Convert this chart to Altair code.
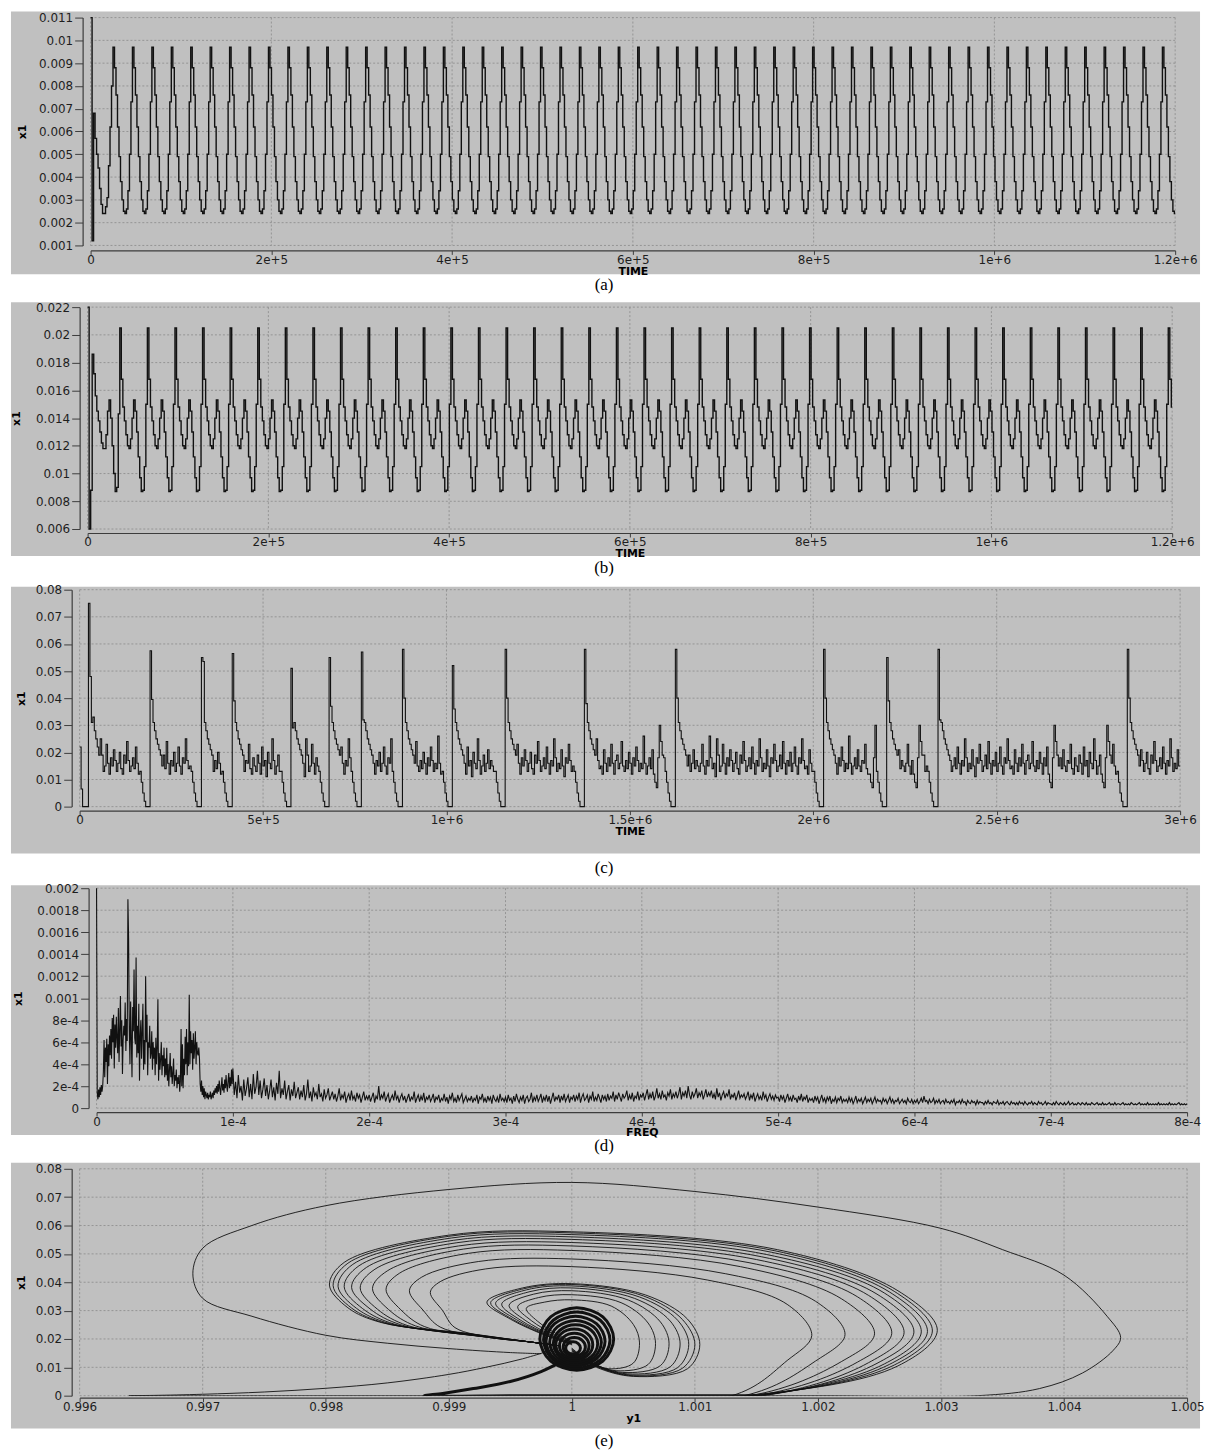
import altair as alt
import pandas as pd

# ---------------------------------------------------------------- look
GRAY = "#c0c0c0"
GRID = "#8a8a8a"
LINE = "#111111"
SERIF = "Liberation Serif"
SANS = "DejaVu Sans"

# ---------------------------------------------------------------- (a) x1 vs TIME
a_step = 1654.0
a_start = [0.0110, 0.0012, 0.0068, 0.0057, 0.0050, 0.0044, 0.0035, 0.0028,
           0.0024, 0.0024, 0.0027, 0.0031, 0.0045, 0.0062, 0.0080]
a_cycle = [0.0097, 0.0088, 0.0076, 0.0062, 0.0049, 0.0038, 0.0030, 0.0025,
           0.0024, 0.0026, 0.0034, 0.0050, 0.0073]
a_cycles = 55
a_xticks = [0, 200000, 400000, 600000, 800000, 1000000, 1200000]
a_yticks = [0.001, 0.002, 0.003, 0.004, 0.005, 0.006, 0.007, 0.008, 0.009, 0.01, 0.011]

# ---------------------------------------------------------------- (b) x1 vs TIME
b_step = 1696.0
b_start = [0.022, 0.006, 0.0088, 0.0186, 0.0172, 0.0156, 0.0145, 0.0138, 0.0130,
           0.0122, 0.0118, 0.0118, 0.0128, 0.0145, 0.0153, 0.0140, 0.0120, 0.0100,
           0.0087, 0.0090, 0.0143]
b_cycle = [0.0205, 0.0168, 0.0148, 0.0138, 0.0128, 0.0120, 0.0118, 0.0125, 0.0140,
           0.0153, 0.0145, 0.0130, 0.0112, 0.0097, 0.0087, 0.0088, 0.0105, 0.0150]
b_cycles = 39
b_xticks = [0, 200000, 400000, 600000, 800000, 1000000, 1200000]
b_yticks = [0.006, 0.008, 0.01, 0.012, 0.014, 0.016, 0.018, 0.02, 0.022]

# ---------------------------------------------------------------- (c) x1 vs TIME
c_step = 4000.0
c_n = 750
c_head = [0.022, 0.0065, 0.0, 0.0, 0.0, 0.0, 0.075, 0.048, 0.031, 0.033, 0.028,
          0.025, 0.022, 0.019]
c_bg = [17, 15, 13, 16, 23, 15, 12, 17, 15, 26, 18, 14, 16, 11, 25, 19, 13, 15, 23, 16,
        12, 18, 15, 21, 17, 13, 16, 20, 14, 12, 19, 16, 24, 17, 13, 15, 18, 14, 22, 16,
        12, 17, 15, 25, 18, 13, 16, 14, 21, 15, 11, 18, 16, 23, 17, 13, 15, 19, 14, 24,
        16, 12, 17, 15, 20, 13, 16, 22, 15, 12, 18, 16, 25, 17, 14, 15, 12, 21, 16, 13,
        18, 15, 23, 16, 12, 17, 19, 14, 16, 24, 15, 13, 17, 14, 20, 16, 12, 18, 15, 22,
        17, 13, 16, 14, 26, 16, 12, 15, 18, 14, 21, 15, 13, 17, 16, 23, 14, 12, 18, 15,
        13, 19, 16, 12, 22, 15, 17, 11, 20, 16, 14, 25, 17, 12, 15, 19, 13, 16, 21, 14]
c_spike_idx = [48, 83, 104, 144, 170, 192, 220, 254, 290, 344, 406, 507, 550, 585, 714]
c_spike_peak = [0.0575, 0.055, 0.0565, 0.051, 0.055, 0.057, 0.058, 0.052, 0.058,
                0.058, 0.058, 0.058, 0.055, 0.058, 0.058]
c_spike_second = [0.0395, 0.0535, 0.039, 0.029, 0.037, 0.032, 0.040, 0.036, 0.040,
                  0.038, 0.040, 0.040, 0.039, 0.032, 0.040]
c_pre = [0.013, 0.009, 0.005, 0.002, 0.0, 0.0, 0.0]
c_post = [0.031, 0.028, 0.025, 0.023, 0.021, 0.019]
c_dip_idx = [393, 540, 570, 662, 698]
c_dip = [0.012, 0.009, 0.007, 0.018, 0.030, 0.024, 0.019]
c_xticks = [0, 500000, 1000000, 1500000, 2000000, 2500000, 3000000]
c_yticks = [0, 0.01, 0.02, 0.03, 0.04, 0.05, 0.06, 0.07, 0.08]

# ---------------------------------------------------------------- (d) spectrum vs FREQ (units of 1e-5)
d_low_step = 5e-7
d_low = [200, 14, 8, 17, 10, 19, 12, 21, 15, 20,
         33, 62, 28, 55, 42, 63, 22, 58, 38, 66,
         48, 72, 45, 82, 60, 85, 36, 76, 55, 83,
         63, 50, 91, 42, 71, 102, 56, 80, 31, 62,
         75, 66, 96, 52, 81, 61, 190, 155, 72, 40,
         97, 63, 28, 92, 70, 126, 64, 58, 137, 46,
         75, 50, 95, 25, 65, 80, 45, 70, 95, 35,
         62, 40, 120, 60, 85, 30, 60, 55, 75, 45,
         50, 70, 35, 60, 45, 55, 30, 64, 40, 55,
         99, 25, 50, 35, 45, 60, 30, 48, 38, 55,
         28, 45, 30, 55, 25, 40, 20, 35, 50, 28,
         38, 22, 32, 45, 20, 30, 25, 35, 18, 28,
         22, 30, 15, 25, 72, 20, 58, 18, 45, 30,
         65, 40, 72, 30, 60, 38, 103, 40, 70, 50,
         62, 35, 68, 45, 55, 70, 40, 60, 50, 48,
         55, 45, 22, 15, 25, 12, 20, 10, 18, 8,
         15, 12, 9, 14, 8, 12, 10, 15, 8, 11,
         14, 9, 16, 12, 18, 14, 20, 13, 22, 15,
         25, 18, 12, 20, 28, 16, 22, 14, 26, 18,
         30, 20, 15, 25, 32, 18, 28, 20, 35, 22]
d_high_start = 1e-4
d_high_step = 1e-6
d_high = [36, 12, 24, 9, 30, 14, 20, 7, 26, 11, 18, 28, 10, 22, 8, 31, 13, 19, 34, 12, 25, 9, 17, 27, 11,
          21, 8, 16, 26, 10, 19, 7, 23, 13, 34, 9, 18, 12, 25, 8, 15, 21, 7, 17, 11, 24, 9, 14, 19, 8,
          16, 10, 21, 7, 13, 26, 9, 15, 6, 19, 11, 14, 8, 22, 10, 13, 6, 17, 9, 12, 18, 7, 11, 15, 8,
          13, 6, 11, 18, 7, 12, 9, 15, 5, 10, 13, 7, 16, 8, 11, 6, 14, 9, 12, 5, 10, 15, 7, 11, 8,
          12, 6, 10, 14, 5, 11, 8, 20, 7, 12, 9, 15, 6, 10, 13, 5, 9, 12, 7, 16, 8, 11, 5, 10, 13,
          7, 11, 5, 9, 13, 6, 10, 8, 15, 5, 9, 12, 6, 11, 7, 14, 5, 10, 8, 12, 6, 9, 13, 5, 10,
          8, 12, 5, 9, 7, 13, 6, 10, 4, 11, 8, 14, 6, 9, 5, 12, 7, 10, 13, 5, 8, 11, 6, 9, 7,
          11, 5, 9, 7, 12, 4, 10, 8, 13, 6, 9, 5, 11, 7, 10, 4, 12, 8, 6, 10, 5, 13, 7, 9, 6,
          10, 5, 12, 7, 9, 4, 11, 6, 13, 8, 5, 10, 7, 12, 4, 9, 11, 6, 8, 14, 5, 10, 7, 12, 6,
          9, 13, 5, 10, 7, 12, 6, 11, 4, 9, 14, 6, 10, 8, 12, 5, 11, 7, 13, 6, 9, 12, 5, 10, 8,
          12, 6, 11, 8, 14, 5, 10, 13, 7, 9, 12, 5, 11, 8, 15, 6, 10, 7, 13, 9, 5, 12, 8, 11, 6,
          13, 7, 11, 9, 15, 6, 12, 8, 14, 10, 6, 13, 9, 11, 16, 7, 12, 8, 14, 6, 11, 9, 15, 7, 12,
          10, 14, 7, 12, 17, 8, 13, 9, 15, 7, 11, 18, 9, 13, 8, 16, 10, 12, 7, 14, 11, 17, 8, 13, 10,
          15, 9, 13, 19, 8, 14, 11, 16, 9, 20, 12, 8, 15, 10, 13, 18, 9, 14, 11, 16, 8, 12, 17, 10, 14,
          11, 16, 9, 13, 8, 18, 10, 14, 7, 12, 15, 9, 13, 11, 17, 8, 12, 10, 14, 7, 11, 16, 9, 12, 10,
          13, 8, 11, 15, 7, 12, 9, 14, 6, 10, 13, 8, 11, 7, 15, 9, 12, 6, 10, 13, 8, 11, 7, 12, 9,
          10, 6, 12, 8, 11, 5, 9, 13, 7, 10, 6, 12, 8, 9, 5, 11, 7, 13, 6, 10, 8, 12, 5, 9, 7,
          9, 5, 11, 7, 10, 4, 8, 12, 6, 9, 5, 10, 7, 11, 4, 8, 6, 10, 5, 9, 7, 11, 5, 8, 6,
          8, 5, 10, 6, 9, 4, 7, 11, 5, 8, 6, 9, 4, 7, 10, 5, 8, 6, 9, 4, 7, 10, 5, 8, 6,
          7, 4, 9, 6, 8, 4, 7, 10, 5, 8, 4, 7, 6, 9, 4, 6, 8, 5, 7, 4, 9, 6, 5, 8, 4,
          7, 5, 8, 4, 6, 9, 5, 11, 6, 7, 4, 8, 5, 6, 9, 4, 7, 5, 8, 4, 6, 7, 4, 8, 5,
          6, 4, 7, 5, 8, 3, 6, 5, 7, 4, 8, 5, 6, 3, 7, 5, 4, 7, 5, 6, 3, 7, 4, 6, 5,
          5, 3, 6, 4, 7, 4, 5, 3, 6, 5, 4, 7, 3, 5, 4, 6, 3, 5, 6, 4, 3, 6, 4, 5, 3,
          5, 3, 6, 4, 5, 3, 6, 4, 3, 5, 4, 6, 3, 5, 4, 3, 6, 4, 5, 3, 4, 6, 3, 5, 4,
          4, 3, 5, 3, 6, 4, 3, 5, 4, 3, 5, 3, 4, 6, 3, 4, 5, 3, 4, 3, 5, 4, 3, 5, 4,
          3, 5, 3, 4, 3, 5, 4, 3, 4, 5, 3, 4, 3, 5, 3, 4, 3, 4, 5, 3, 4, 3, 5, 3, 4,
          4, 3, 4, 5, 3, 4, 3, 4, 3, 5, 4, 3, 4, 3, 4, 5, 3, 4, 3, 4, 3, 5, 3, 4, 3,
          4, 3, 4, 3, 5, 3, 4, 3, 4, 3, 4, 3, 5, 3, 4, 3, 4, 3, 4, 5, 3, 4, 3, 4, 3, 4]
d_xticks = [0, 0.0001, 0.0002, 0.0003, 0.0004, 0.0005, 0.0006, 0.0007, 0.0008]
d_yticks = [0, 0.0002, 0.0004, 0.0006, 0.0008, 0.001, 0.0012, 0.0014, 0.0016, 0.0018, 0.002]

# ---------------------------------------------------------------- (e) x1 vs y1 (phase portrait)
e_transient_y1 = [0.99990, 0.99960, 0.99930, 0.99900, 0.99850, 0.99800, 0.99750, 0.99700,
                  0.99660, 0.99640, 0.99800, 1.00000, 1.00200, 1.00330, 1.00380, 1.00415,
                  1.00440, 1.00446, 1.00435, 1.00400, 1.00350, 1.00300, 1.00200, 1.00100,
                  1.00000, 0.99900, 0.99800, 0.99740, 0.99700, 0.99692, 0.99700, 0.99740,
                  0.99800, 0.99850, 0.99900, 0.99950, 0.99975]
e_transient_x1 = [0.0170, 0.0130, 0.0100, 0.0075, 0.0045, 0.0026, 0.0013, 0.0005,
                  0.0001, 0.0, 0.0, 0.0, 0.0, 0.0, 0.0025, 0.0080,
                  0.0160, 0.0205, 0.0280, 0.0425, 0.0515, 0.0590, 0.0665, 0.0720,
                  0.0752, 0.0727, 0.0670, 0.0600, 0.0520, 0.0430, 0.0343, 0.0280,
                  0.0213, 0.0185, 0.0166, 0.0152, 0.0148]
e_drop_y1 = [1.00000, 0.99994, 0.99975, 0.99950, 0.99920, 0.99895, 0.99880]
e_drop_x1 = [0.0150, 0.0128, 0.0085, 0.0050, 0.0025, 0.0008, 0.0]
e_return_y1 = [0.99965, 0.99990]
e_return_x1 = [0.0190, 0.0176]
e_big_loops = [
    ([1.00140, 1.00265, 1.00297, 1.00265, 1.00167, 1.00000, 0.99900, 0.99815, 0.99803, 0.99818, 0.99845, 0.99915],
     [0.0, 0.0105, 0.0230, 0.0370, 0.0515, 0.0578, 0.0566, 0.0470, 0.0390, 0.0310, 0.0258, 0.0220]),
    ([1.00145, 1.00262, 1.00293, 1.00262, 1.00165, 1.00000, 0.99900, 0.99818, 0.99806, 0.99821, 0.99848, 0.99917],
     [0.0, 0.0108, 0.0228, 0.0368, 0.0511, 0.0574, 0.0562, 0.0467, 0.0388, 0.0309, 0.0256, 0.0218]),
    ([1.00150, 1.00258, 1.00289, 1.00258, 1.00162, 1.00000, 0.99902, 0.99822, 0.99810, 0.99825, 0.99852, 0.99919],
     [0.0, 0.0110, 0.0226, 0.0366, 0.0506, 0.0568, 0.0556, 0.0463, 0.0386, 0.0308, 0.0254, 0.0216]),
    ([1.00150, 1.00254, 1.00284, 1.00254, 1.00158, 1.00000, 0.99904, 0.99827, 0.99815, 0.99830, 0.99856, 0.99921],
     [0.0, 0.0112, 0.0225, 0.0362, 0.0498, 0.0560, 0.0548, 0.0458, 0.0384, 0.0307, 0.0252, 0.0214]),
    ([1.00155, 1.00248, 1.00278, 1.00248, 1.00154, 1.00000, 0.99906, 0.99833, 0.99821, 0.99836, 0.99861, 0.99923],
     [0.0, 0.0114, 0.0224, 0.0358, 0.0490, 0.0551, 0.0539, 0.0452, 0.0382, 0.0306, 0.0250, 0.0212]),
    ([1.00155, 1.00241, 1.00270, 1.00241, 1.00150, 1.00000, 0.99908, 0.99840, 0.99828, 0.99842, 0.99866, 0.99925],
     [0.0, 0.0116, 0.0222, 0.0354, 0.0480, 0.0540, 0.0528, 0.0446, 0.0380, 0.0305, 0.0248, 0.0210]),
    ([1.00150, 1.00232, 1.00260, 1.00232, 1.00144, 1.00000, 0.99912, 0.99850, 0.99838, 0.99851, 0.99873, 0.99928],
     [0.0, 0.0118, 0.0220, 0.0349, 0.0469, 0.0528, 0.0517, 0.0440, 0.0378, 0.0304, 0.0246, 0.0208]),
    ([1.00145, 1.00219, 1.00246, 1.00219, 1.00137, 1.00000, 0.99916, 0.99860, 0.99849, 0.99861, 0.99880, 0.99931],
     [0.0, 0.0120, 0.0218, 0.0342, 0.0455, 0.0512, 0.0502, 0.0432, 0.0375, 0.0303, 0.0244, 0.0206]),
    ([1.00140, 1.00198, 1.00222, 1.00198, 1.00125, 1.00000, 0.99924, 0.99878, 0.99868, 0.99879, 0.99893, 0.99935],
     [0.0, 0.0122, 0.0215, 0.0333, 0.0430, 0.0482, 0.0473, 0.0418, 0.0370, 0.0302, 0.0242, 0.0204]),
    ([1.00130, 1.00175, 1.00195, 1.00175, 1.00110, 1.00000, 0.99930, 0.99893, 0.99885, 0.99895, 0.99905, 0.99940],
     [0.0, 0.0124, 0.0212, 0.0322, 0.0408, 0.0455, 0.0447, 0.0402, 0.0364, 0.0300, 0.0240, 0.0202]),
]
e_mid_loops = [
    ([1.00000, 1.00020, 1.00050, 1.00094, 1.00104, 1.00094, 1.00060, 1.00000, 0.99960, 0.99931, 0.99950, 0.99980, 1.00000],
     [0.0150, 0.0100, 0.0068, 0.0095, 0.0180, 0.0270, 0.0355, 0.0395, 0.0380, 0.0330, 0.0270, 0.0210, 0.0180]),
    ([1.00000, 1.00020, 1.00050, 1.00090, 1.00100, 1.00090, 1.00058, 1.00000, 0.99961, 0.99934, 0.99952, 0.99981, 1.00000],
     [0.0155, 0.0103, 0.0070, 0.0097, 0.0180, 0.0268, 0.0352, 0.0392, 0.0377, 0.0328, 0.0269, 0.0210, 0.0182]),
    ([1.00000, 1.00019, 1.00048, 1.00086, 1.00095, 1.00086, 1.00055, 1.00000, 0.99963, 0.99938, 0.99955, 0.99982, 1.00000],
     [0.0158, 0.0106, 0.0073, 0.0099, 0.0181, 0.0266, 0.0348, 0.0387, 0.0373, 0.0326, 0.0268, 0.0211, 0.0184]),
    ([1.00000, 1.00018, 1.00045, 1.00080, 1.00088, 1.00080, 1.00051, 1.00000, 0.99966, 0.99943, 0.99958, 0.99983, 1.00000],
     [0.0160, 0.0110, 0.0077, 0.0102, 0.0182, 0.0263, 0.0343, 0.0380, 0.0367, 0.0323, 0.0267, 0.0212, 0.0186]),
    ([1.00000, 1.00017, 1.00041, 1.00072, 1.00079, 1.00072, 1.00046, 1.00000, 0.99969, 0.99949, 0.99962, 0.99984, 1.00000],
     [0.0162, 0.0114, 0.0082, 0.0106, 0.0183, 0.0260, 0.0337, 0.0370, 0.0358, 0.0319, 0.0266, 0.0213, 0.0188]),
    ([1.00000, 1.00015, 1.00036, 1.00062, 1.00068, 1.00062, 1.00040, 1.00000, 0.99973, 0.99956, 0.99967, 0.99986, 1.00000],
     [0.0165, 0.0118, 0.0088, 0.0110, 0.0184, 0.0256, 0.0328, 0.0356, 0.0346, 0.0314, 0.0265, 0.0215, 0.0190]),
    ([1.00000, 1.00013, 1.00030, 1.00050, 1.00055, 1.00050, 1.00032, 1.00000, 0.99978, 0.99963, 0.99972, 0.99988, 1.00000],
     [0.0168, 0.0123, 0.0095, 0.0115, 0.0186, 0.0251, 0.0316, 0.0338, 0.0330, 0.0308, 0.0263, 0.0217, 0.0192]),
]
e_band_y1 = [0.99995, 0.99975, 0.99950, 0.99920, 0.99895, 0.99880, 0.99960, 1.00060, 1.00150]
e_band_x1 = [0.0128, 0.0085, 0.0050, 0.0025, 0.0008, 0.0, 0.0, 0.0, 0.0]
e_rings = [
    ([1.00034, 1.000252, 1.00004, 0.999828, 0.99974, 0.999828, 1.00004, 1.000252],
     [0.0200, 0.02778, 0.0310, 0.02778, 0.0200, 0.01222, 0.0090, 0.01222]),
    ([1.00031, 1.000231, 1.00004, 0.999849, 0.99977, 0.999849, 1.00004, 1.000231],
     [0.0196, 0.0266, 0.0295, 0.0266, 0.0196, 0.0126, 0.0097, 0.0126]),
    ([1.00027, 1.00020, 1.00003, 0.99986, 0.99979, 0.99986, 1.00003, 1.00020],
     [0.0192, 0.02542, 0.0280, 0.02542, 0.0192, 0.01298, 0.0104, 0.01298]),
    ([1.00024, 1.000178, 1.00003, 0.999882, 0.99982, 0.999882, 1.00003, 1.000178],
     [0.0188, 0.02424, 0.0265, 0.02424, 0.0188, 0.01336, 0.0111, 0.01336]),
    ([1.00021, 1.000157, 1.00003, 0.999903, 0.99985, 0.999903, 1.00003, 1.000157],
     [0.0184, 0.02307, 0.0250, 0.02307, 0.0184, 0.01373, 0.0118, 0.01373]),
    ([1.00017, 1.000126, 1.00002, 0.999914, 0.99987, 0.999914, 1.00002, 1.000126],
     [0.0180, 0.02189, 0.0235, 0.02189, 0.0180, 0.01411, 0.0125, 0.01411]),
    ([1.00014, 1.000105, 1.00002, 0.999935, 0.99990, 0.999935, 1.00002, 1.000105],
     [0.0176, 0.02071, 0.0220, 0.02071, 0.0176, 0.01449, 0.0132, 0.01449]),
    ([1.00011, 1.000084, 1.00002, 0.999956, 0.99993, 0.999956, 1.00002, 1.000084],
     [0.0172, 0.01953, 0.0205, 0.01953, 0.0172, 0.01487, 0.0139, 0.01487]),
    ([1.00007, 1.000052, 1.00001, 0.999968, 0.99995, 0.999968, 1.00001, 1.000052],
     [0.0168, 0.01836, 0.0190, 0.01836, 0.0168, 0.01524, 0.0146, 0.01524]),
]
e_xticks = [0.996, 0.997, 0.998, 0.999, 1.0, 1.001, 1.002, 1.003, 1.004, 1.005]
e_yticks = [0, 0.01, 0.02, 0.03, 0.04, 0.05, 0.06, 0.07, 0.08]

# ---------------------------------------------------------------- tables
def tiled(start, cycle, cycles, step, t_end):
    vals = list(start) + list(cycle) * cycles
    rows = []
    for i, v in enumerate(vals):
        if i * step > t_end:
            break
        rows.append((i * step, v))
    rows.append((t_end, rows[-1][1]))
    return pd.DataFrame(rows, columns=["t", "v"])


def curves(pairs):
    rows = []
    for cid, (ys, xs) in enumerate(pairs):
        for i, (a, b) in enumerate(zip(ys, xs)):
            rows.append((cid, i, a, b))
    return pd.DataFrame(rows, columns=["cid", "i", "t", "v"])


df_a = tiled(a_start, a_cycle, a_cycles, a_step, 1.2e6)
df_b = tiled(b_start, b_cycle, b_cycles, b_step, 1.2e6)

c_vals = [c_bg[i % len(c_bg)] / 1000.0 for i in range(c_n)]
for k, v in enumerate(c_head):
    c_vals[k] = v
for idx in c_dip_idx:
    for k, v in enumerate(c_dip):
        c_vals[idx - 2 + k] = v
for idx, pk, sc in zip(c_spike_idx, c_spike_peak, c_spike_second):
    for k, v in enumerate(c_pre):
        c_vals[idx - len(c_pre) + k] = v
    c_vals[idx] = pk
    c_vals[idx + 1] = sc
    for k, v in enumerate(c_post):
        c_vals[idx + 2 + k] = v
c_rows = [(i * c_step, v) for i, v in enumerate(c_vals)]
c_rows.append((3e6, c_vals[-1]))
df_c = pd.DataFrame(c_rows, columns=["t", "v"])

d_rows = [(i * d_low_step, v * 1e-5) for i, v in enumerate(d_low)]
for i, v in enumerate(d_high):
    f = d_high_start + i * d_high_step
    if f <= 8e-4 + 1e-12:
        d_rows.append((f, v * 1e-5))
df_d = pd.DataFrame(d_rows, columns=["t", "v"])

e_open = [(e_transient_y1, e_transient_x1)]
for ly, lx in e_big_loops:
    e_open.append((e_drop_y1 + ly + e_return_y1, e_drop_x1 + lx + e_return_x1))
e_open += e_mid_loops
df_e_open = curves(e_open)
df_e_band = curves([(e_band_y1, e_band_x1)])
df_e_rings = curves(e_rings)

# ---------------------------------------------------------------- panels
TIME_FMT = "datum.value == 0 ? '0' : format(datum.value, '~e')"
G_FMT = "format(datum.value, '~g')"
D_FMT = ("datum.value == 0 ? '0' : (datum.value < 0.00095 ? "
         "format(datum.value, '~e') : format(datum.value, '~g'))")

AX = dict(domainColor="#3c3c3c", domainWidth=1.2, tickColor="#3c3c3c", tickWidth=1,
          labelFont=SANS, labelFontSize=12, labelColor="#1e1e1e",
          titleFont=SANS, titleFontSize=11, titleFontWeight="bold", titleColor="#000000",
          grid=False, zindex=1, labelOverlap=False, labelFlush=False)
O = 96


def panel(s, lines):
    r0 = s["left"] - O
    r1 = s["right"] - O
    top = s["top"]
    h = s["h"]
    xs = alt.Scale(domain=s["xdom"], range=[r0, r1], nice=False, zero=False)
    ys = alt.Scale(domain=s["ydom"], nice=False, zero=False)
    xa = alt.Axis(values=s["xticks"], labelExpr=s["xfmt"], offset=s["xoff"], tickSize=4,
                  labelPadding=0, titlePadding=0, **AX)
    ya = alt.Axis(values=s["yticks"], labelExpr=s["yfmt"], offset=104 - s["left"], tickSize=8,
                  labelPadding=2, titlePadding=s["ytp"], **AX)
    X = alt.X("t:Q", scale=xs, axis=xa, title=s["xtitle"])
    Y = alt.Y("v:Q", scale=ys, axis=ya, title="x1")
    one = pd.DataFrame({"k": [0]})
    gx0, gx1 = 10 - O, 1205 - O
    white = alt.Chart(one).mark_rect(color="#ffffff").encode(
        x=alt.value(gx0), x2=alt.value(gx1),
        y=alt.value(s["wtop"] - top), y2=alt.value(s["wbot"] - top))
    gray = alt.Chart(one).mark_rect(color=GRAY).encode(
        x=alt.value(gx0), x2=alt.value(gx1),
        y=alt.value(s["gtop"] - top), y2=alt.value(s["gbot"] - top))
    hgrid = alt.Chart(pd.DataFrame({"v": s["yticks"]})).mark_rule(
        color=GRID, strokeDash=[2, 2], strokeWidth=0.8).encode(
        y=Y, x=alt.value(r0), x2=alt.value(r1))
    vgrid = alt.Chart(pd.DataFrame({"t": s["xticks"]})).mark_rule(
        color=GRID, strokeDash=[2, 2], strokeWidth=0.8).encode(
        x=X, y=alt.value(0), y2=alt.value(h))
    layers = [white, gray, hgrid, vgrid]
    for df, mk, enc in lines:
        layers.append(alt.Chart(df).mark_line(**mk).encode(x=X, y=Y, **enc))
    cap = alt.Chart(one).mark_text(font=SERIF, fontSize=17, color="#000000",
                                   align="center", baseline="middle").encode(
        x=alt.value(606 - O), y=alt.value(s["cap"] - top), text=alt.value(s["caption"]))
    layers.append(cap)
    return alt.layer(*layers).properties(width=r1, height=h)


# vertical positions below are page pixels minus 2 (the page puts the first label's top at y=8)
spec_a = dict(left=90, right=1180, top=12, h=229, gtop=6, gbot=270, wtop=6, wbot=296,
              cap=281, caption="(a)", xdom=[0, 1.2e6], ydom=[0.001, 0.011], ytp=11,
              xticks=a_xticks, yticks=a_yticks, xfmt=TIME_FMT, yfmt=G_FMT, xtitle="TIME", xoff=5)
spec_b = dict(left=87, right=1177, top=303, h=223, gtop=298, gbot=553, wtop=296, wbot=581,
              cap=565, caption="(b)", xdom=[0, 1.2e6], ydom=[0.006, 0.022], ytp=14,
              xticks=b_xticks, yticks=b_yticks, xfmt=TIME_FMT, yfmt=G_FMT, xtitle="TIME", xoff=4)
spec_c = dict(left=79, right=1185, top=586, h=218, gtop=583, gbot=851, wtop=581, wbot=880,
              cap=866, caption="(c)", xdom=[0, 3e6], ydom=[0, 0.08], ytp=9,
              xticks=c_xticks, yticks=c_yticks, xfmt=TIME_FMT, yfmt=G_FMT, xtitle="TIME", xoff=4)
spec_d = dict(left=96, right=1192, top=885, h=221, gtop=882, gbot=1133, wtop=880, wbot=1159,
              cap=1144, caption="(d)", xdom=[0, 8e-4], ydom=[0, 0.002], ytp=13,
              xticks=d_xticks, yticks=d_yticks, xfmt=TIME_FMT, yfmt=D_FMT, xtitle="FREQ", xoff=4)
spec_e = dict(left=79, right=1192, top=1167, h=228, gtop=1161, gbot=1428, wtop=1159, wbot=1452,
              cap=1441, caption="(e)", xdom=[0.996, 1.005], ydom=[0, 0.08], ytp=9,
              xticks=e_xticks, yticks=e_yticks, xfmt=G_FMT, yfmt=G_FMT, xtitle="y1", xoff=2)

pa = panel(spec_a, [(df_a, dict(interpolate="step-after", color=LINE, strokeWidth=1.4), {})])
pb = panel(spec_b, [(df_b, dict(interpolate="step-after", color=LINE, strokeWidth=1.4), {})])
pc = panel(spec_c, [(df_c, dict(interpolate="step-after", color=LINE, strokeWidth=1.1), {})])
pd_ = panel(spec_d, [(df_d, dict(color=LINE, strokeWidth=1.1), {})])
pe = panel(spec_e, [
    (df_e_open, dict(interpolate="catmull-rom", color=LINE, strokeWidth=0.9, clip=True),
     dict(detail="cid:N", order="i:Q")),
    (df_e_band, dict(interpolate="catmull-rom", color=LINE, strokeWidth=3.0, clip=True),
     dict(detail="cid:N", order="i:Q")),
    (df_e_rings, dict(interpolate="cardinal-closed", color=LINE, strokeWidth=3.0, clip=True),
     dict(detail="cid:N", order="i:Q")),
])

chart = alt.vconcat(pa, pb, pc, pd_, pe, spacing=0).properties(
    padding={"left": 2, "top": 0, "right": 0, "bottom": 0}
).configure_view(stroke=None)

chart.save("out.html", embed_options={"renderer": "svg", "actions": False})
